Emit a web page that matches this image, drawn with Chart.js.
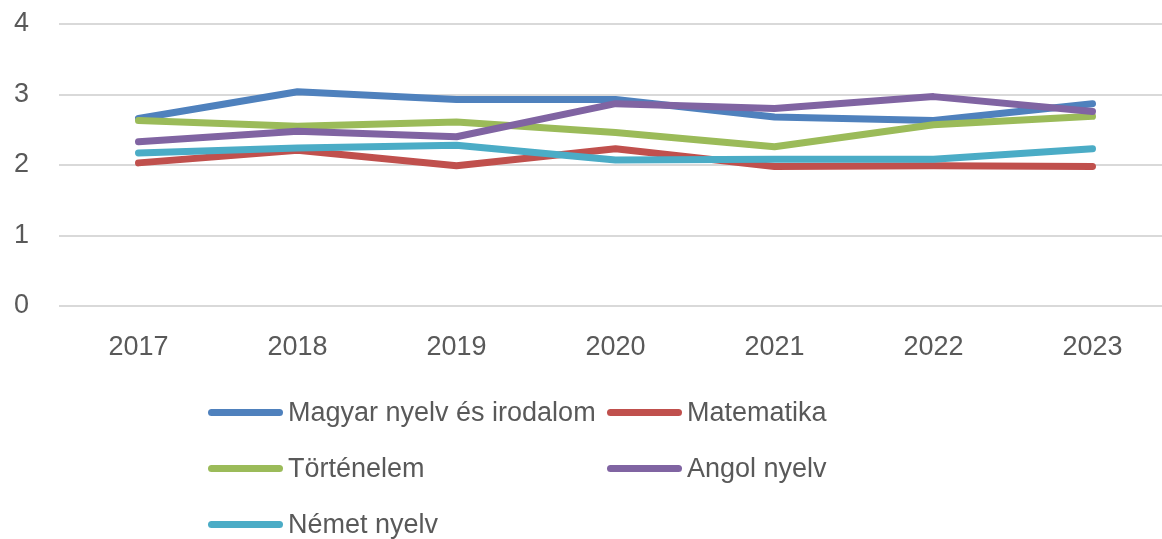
<!DOCTYPE html>
<html>
<head>
<meta charset="utf-8">
<script src="https://cdn.jsdelivr.net/npm/chart.js@4"></script>
<style>
    html, body {margin: 0; padding: 0; background: #fff; overflow: hidden; width: 1162px; height: 539px;}
    #wrap {position: absolute; left: 0; top: 0; width: 1172px; height: 380px;}
    #legenda {position: absolute; left: 0; top: 0; width: 1162px; height: 539px; pointer-events: none;}
    .tetel {position: absolute; display: flex; align-items: center; height: 40px; margin-top: -20px;
        font-family: "Liberation Sans Narrow", "Liberation Sans", sans-serif; font-size: 27px; color: #595959;}
    .vonal {width: 75px; height: 7px; border-radius: 4px; margin-right: 5px;}
</style>
</head>
<body>
<div id="wrap"><canvas id="grafikon" width="1172" height="380"></canvas></div>
<div id="legenda"></div>
<script>
const evek = ["2017", "2018", "2019", "2020", "2021", "2022", "2023"];
const tantargyak = ["Magyar nyelv és irodalom", "Matematika", "Történelem", "Angol nyelv", "Német nyelv"];

const magyar = [2.66, 3.04, 2.93, 2.93, 2.68, 2.63, 2.87];
const matek = [2.03, 2.21, 1.99, 2.23, 1.98, 1.99, 1.98];
const tortenelem = [2.63, 2.55, 2.61, 2.46, 2.26, 2.57, 2.69];
const angol = [2.33, 2.48, 2.40, 2.87, 2.80, 2.97, 2.76];
const nemet = [2.17, 2.24, 2.28, 2.07, 2.08, 2.08, 2.23];

const szinek = ["#4F81BD", "#C0504D", "#9BBB59", "#8064A2", "#4BACC6"];
const sorok = [magyar, matek, tortenelem, angol, nemet];

// a későbbi sorozat kerül felülre, mint az Excelben
const adatsorok = sorok.map((adat, i) => ({
    label: tantargyak[i],
    data: adat,
    borderColor: szinek[i],
    backgroundColor: szinek[i],
    borderWidth: 7,
    pointRadius: 0,
    pointHoverRadius: 0,
    borderCapStyle: "round",
    borderJoinStyle: "round",
    tension: 0,
    order: sorok.length - i
}));

const betu = {family: "'Liberation Sans', Arial, sans-serif", size: 27};

const grafikon = new Chart(
    document.getElementById("grafikon"),
    {
        type: "line",
        data: {labels: evek, datasets: adatsorok},
        options: {
            responsive: false,
            devicePixelRatio: 1,
            animation: false,
            layout: {padding: {top: 24, right: 0, left: 0, bottom: 0}},
            plugins: {legend: {display: false}, tooltip: {enabled: false}},
            scales: {
                x: {
                    offset: true,
                    grid: {display: false, offset: true},
                    border: {display: false},
                    ticks: {color: "#595959", font: betu, padding: 17, maxRotation: 0},
                    afterFit: (sk) => {
                        sk.height = 74;
                        sk.paddingLeft = 0;
                        sk.paddingRight = 0;
                    }
                },
                y: {
                    min: 0,
                    max: 4,
                    ticks: {stepSize: 1, color: "#595959", font: betu, padding: 30},
                    grid: {color: "#d9d9d9", lineWidth: 2, drawTicks: false},
                    border: {display: false},
                    afterFit: (sk) => {
                        sk.width = 59;
                        sk.paddingTop = 0;
                        sk.paddingBottom = 0;
                    }
                }
            }
        }
    }
);

// Jelmagyarázat két oszlopban
const helyek = [[208, 412], [607, 412], [208, 468], [607, 468], [208, 524]];
const legenda = document.getElementById("legenda");
grafikon.data.datasets.forEach((ds, i) => {
    const tetel = document.createElement("div");
    tetel.className = "tetel";
    tetel.style.left = helyek[i][0] + "px";
    tetel.style.top = helyek[i][1] + "px";
    const vonal = document.createElement("div");
    vonal.className = "vonal";
    vonal.style.background = ds.borderColor;
    const szoveg = document.createElement("span");
    szoveg.textContent = ds.label;
    tetel.appendChild(vonal);
    tetel.appendChild(szoveg);
    legenda.appendChild(tetel);
});
</script>
</body>
</html>
